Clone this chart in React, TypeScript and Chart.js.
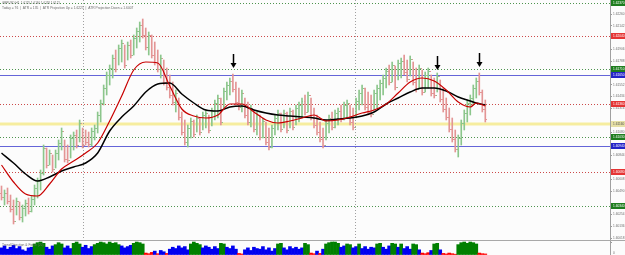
import React, { useEffect, useRef } from 'react';
import { Chart, registerables } from 'chart.js';
Chart.register(...registerables);

const FONT = '"Liberation Sans", "DejaVu Sans", sans-serif';
const BG = '#fcfcfc';
const SLOTS = 203;

const titleLine1 = 'GBPUSD,H1  1.6125 1.6140 1.6118 1.6121';
const titleLine2 = 'Today = 76  |  ATR = 135  |  ATR Projection Up = 1.6221  |  ATR Projection Down = 1.6007';
const subTitle = 'Trend Direction & Force (20)';

const highs = [
  1.6054, 1.6050, 1.6052, 1.6045, 1.6040, 1.6042, 1.6038, 1.6035, 1.6040, 1.6042,
  1.6044, 1.6055, 1.6062, 1.6070, 1.6095, 1.6092, 1.6090, 1.6085, 1.6090, 1.6100,
  1.6112, 1.6100, 1.6095, 1.6105, 1.6108, 1.6110, 1.6120, 1.6112, 1.6110, 1.6108,
  1.6112, 1.6115, 1.6128, 1.6140, 1.6155, 1.6168, 1.6175, 1.6185, 1.6190, 1.6195,
  1.6200, 1.6195, 1.6198, 1.6200, 1.6205, 1.6212, 1.6218, 1.6221, 1.6212, 1.6208,
  1.6205, 1.6198, 1.6190, 1.6185, 1.6180, 1.6172, 1.6165, 1.6158, 1.6150, 1.6142,
  1.6128, 1.6120, 1.6115, 1.6122, 1.6120, 1.6125, 1.6122, 1.6128, 1.6130, 1.6125,
  1.6132, 1.6140, 1.6145, 1.6142, 1.6152, 1.6158, 1.6162, 1.6166, 1.6158, 1.6152,
  1.6150, 1.6142, 1.6138, 1.6135, 1.6130, 1.6128, 1.6125, 1.6122, 1.6118, 1.6112,
  1.6115, 1.6125, 1.6130, 1.6127, 1.6130, 1.6128, 1.6132, 1.6130, 1.6135, 1.6138,
  1.6142, 1.6145, 1.6148, 1.6142, 1.6132, 1.6125, 1.6118, 1.6112, 1.6120, 1.6125,
  1.6128, 1.6130, 1.6132, 1.6135, 1.6138, 1.6140, 1.6135, 1.6132, 1.6142, 1.6150,
  1.6155, 1.6152, 1.6148, 1.6145, 1.6150, 1.6155, 1.6160, 1.6165, 1.6172, 1.6175,
  1.6178, 1.6174, 1.6180, 1.6182, 1.6185, 1.6180, 1.6184, 1.6178, 1.6172, 1.6175,
  1.6170, 1.6168, 1.6172, 1.6165, 1.6162, 1.6167, 1.6160, 1.6152, 1.6142, 1.6132,
  1.6122, 1.6110, 1.6105, 1.6120, 1.6130, 1.6140, 1.6145, 1.6155, 1.6162, 1.6167,
  1.6150, 1.6140,
];

const lows = [
  1.6040, 1.6035, 1.6036, 1.6028, 1.6016, 1.6025, 1.6020, 1.6018, 1.6024, 1.6026,
  1.6028, 1.6035, 1.6042, 1.6050, 1.6065, 1.6072, 1.6075, 1.6068, 1.6072, 1.6080,
  1.6090, 1.6078, 1.6077, 1.6082, 1.6090, 1.6092, 1.6098, 1.6092, 1.6095, 1.6093,
  1.6094, 1.6100, 1.6107, 1.6118, 1.6135, 1.6145, 1.6155, 1.6162, 1.6168, 1.6175,
  1.6178, 1.6172, 1.6180, 1.6182, 1.6185, 1.6192, 1.6198, 1.6202, 1.6190, 1.6185,
  1.6182, 1.6175, 1.6168, 1.6162, 1.6155, 1.6150, 1.6142, 1.6135, 1.6128, 1.6120,
  1.6105, 1.6095, 1.6093, 1.6102, 1.6103, 1.6108, 1.6105, 1.6110, 1.6112, 1.6107,
  1.6114, 1.6120, 1.6122, 1.6115, 1.6132, 1.6140, 1.6145, 1.6148, 1.6135, 1.6130,
  1.6128, 1.6122, 1.6115, 1.6113, 1.6108, 1.6105, 1.6100, 1.6102, 1.6095, 1.6090,
  1.6092, 1.6105, 1.6110, 1.6108, 1.6112, 1.6107, 1.6112, 1.6110, 1.6115, 1.6118,
  1.6122, 1.6125, 1.6128, 1.6120, 1.6112, 1.6105, 1.6098, 1.6092, 1.6100, 1.6107,
  1.6110, 1.6112, 1.6115, 1.6118, 1.6120, 1.6122, 1.6115, 1.6110, 1.6122, 1.6130,
  1.6135, 1.6130, 1.6125, 1.6123, 1.6130, 1.6132, 1.6140, 1.6145, 1.6152, 1.6155,
  1.6158, 1.6150, 1.6160, 1.6162, 1.6165, 1.6158, 1.6164, 1.6155, 1.6148, 1.6152,
  1.6145, 1.6148, 1.6152, 1.6144, 1.6142, 1.6148, 1.6138, 1.6128, 1.6120, 1.6108,
  1.6098, 1.6088, 1.6083, 1.6095, 1.6110, 1.6118, 1.6125, 1.6135, 1.6142, 1.6145,
  1.6128, 1.6118,
];

const closes = [
  1.6043, 1.6047, 1.6039, 1.6031, 1.6019, 1.6039, 1.6023, 1.6032, 1.6037, 1.6029,
  1.6041, 1.6052, 1.6059, 1.6067, 1.6092, 1.6075, 1.6087, 1.6071, 1.6087, 1.6097,
  1.6109, 1.6081, 1.6080, 1.6102, 1.6105, 1.6095, 1.6117, 1.6095, 1.6098, 1.6096,
  1.6109, 1.6112, 1.6125, 1.6137, 1.6152, 1.6165, 1.6172, 1.6182, 1.6171, 1.6192,
  1.6197, 1.6175, 1.6195, 1.6185, 1.6202, 1.6209, 1.6215, 1.6205, 1.6193, 1.6205,
  1.6185, 1.6178, 1.6171, 1.6182, 1.6158, 1.6153, 1.6145, 1.6138, 1.6147, 1.6123,
  1.6108, 1.6098, 1.6112, 1.6119, 1.6106, 1.6122, 1.6108, 1.6125, 1.6127, 1.6110,
  1.6129, 1.6137, 1.6142, 1.6118, 1.6149, 1.6155, 1.6159, 1.6151, 1.6138, 1.6133,
  1.6147, 1.6125, 1.6118, 1.6132, 1.6111, 1.6125, 1.6103, 1.6119, 1.6098, 1.6093,
  1.6112, 1.6122, 1.6127, 1.6111, 1.6127, 1.6110, 1.6129, 1.6113, 1.6132, 1.6135,
  1.6139, 1.6128, 1.6145, 1.6123, 1.6115, 1.6108, 1.6101, 1.6095, 1.6117, 1.6122,
  1.6113, 1.6127, 1.6129, 1.6121, 1.6135, 1.6137, 1.6118, 1.6113, 1.6139, 1.6147,
  1.6152, 1.6133, 1.6128, 1.6126, 1.6147, 1.6152, 1.6157, 1.6162, 1.6169, 1.6158,
  1.6175, 1.6153, 1.6177, 1.6179, 1.6168, 1.6161, 1.6181, 1.6158, 1.6151, 1.6172,
  1.6148, 1.6165, 1.6169, 1.6147, 1.6145, 1.6164, 1.6141, 1.6131, 1.6123, 1.6111,
  1.6101, 1.6091, 1.6102, 1.6117, 1.6127, 1.6137, 1.6142, 1.6152, 1.6159, 1.6148,
  1.6131, 1.6121,
];

const maIdx = [
  0, 4, 8, 12, 16, 20, 24, 28, 32, 36, 40, 44, 48, 52, 56, 60, 64, 68, 72, 76,
  80, 84, 88, 92, 96, 100, 104, 108, 112, 116, 120, 124, 128, 132, 136, 140, 144, 148, 152, 156,
  158, 161,
];
const redMA = [
  1.6075, 1.6058, 1.6046, 1.6044, 1.6056, 1.6071, 1.6079, 1.6087, 1.6097, 1.6119,
  1.6144, 1.6170, 1.6178, 1.6177, 1.6154, 1.6131, 1.6124, 1.6122, 1.6125, 1.6136,
  1.6136, 1.6128, 1.6120, 1.6117, 1.6119, 1.6122, 1.6125, 1.6119, 1.6120, 1.6123,
  1.6127, 1.6130, 1.6136, 1.6147, 1.6158, 1.6162, 1.6159, 1.6150, 1.6138, 1.6133,
  1.6137, 1.6134,
];
const blackMA = [
  1.6087, 1.6077, 1.6066, 1.6059, 1.6063, 1.6069, 1.6073, 1.6077, 1.6087, 1.6109,
  1.6123, 1.6134, 1.6148, 1.6156, 1.6157, 1.6146, 1.6137, 1.6130, 1.6129, 1.6133,
  1.6134, 1.6130, 1.6127, 1.6125, 1.6124, 1.6123, 1.6122, 1.6120, 1.6121, 1.6122,
  1.6124, 1.6128, 1.6136, 1.6142, 1.6148, 1.6152, 1.6152, 1.6149, 1.6143, 1.6139,
  1.6137, 1.6135,
];

const trendVals = [
  55, 70, 45, 60, 75, 50, 65, 40, 30, 55, 60,
  85, 95, 100, 90,
  60, 45, 70,
  80, 95, 85,
  55, 70, 50,
  90, 100, 85,
  60, 75, 50, 65,
  80, 90, 100, 95, 85, 100, 90, 95, 80,
  70, 55, 65, 75,
  90, 100, 95, 85,
  15, 10, 20, 30, 10, 35, 25, 12,
  45, 60, 50, 70, 55, 65, 40,
  85, 100, 90, 80,
  55, 70, 60, 45, 65, 50,
  90, 85,
  60, 50, 70, 45,
  12, 8,
  40, 55, 35, 60, 50, 45, 65, 40, 55, 30, 50,
  85, 90,
  55, 40, 65, 50, 60, 45, 55,
  90, 80,
  15, 10, 30, 12,
  45,
  85, 95, 100, 100, 90,
  60, 70,
  85, 80,
  55, 65,
  85,
  50, 65, 45, 60, 55,
  85, 90,
  60, 45, 70,
  90, 85,
  60,
  85,
  50, 65, 45,
  85, 80,
  40,
  15, 10, 18,
  35,
  85, 90,
  40,
  12, 8, 15, 10, 6,
  80, 95, 100, 90, 100, 95, 85,
  15, 10, 8,
];
const trendCols =
  'bbbbbbbbbbb' + 'gggg' + 'bbb' + 'ggg' + 'bbb' + 'ggg' + 'bbbb' + 'ggggggggg' + 'bbbb' + 'gggg' +
  'rrrbrbbr' + 'bbbbbbb' + 'gggg' + 'bbbbbb' + 'gg' + 'bbbb' + 'rr' + 'bbbbbbbbbbb' + 'gg' + 'bbbbbbb' +
  'gg' + 'rrbr' + 'b' + 'ggggg' + 'bb' + 'gg' + 'bb' + 'g' + 'bbbbb' + 'gg' + 'bbb' + 'gg' + 'b' + 'g' +
  'bbb' + 'gg' + 'b' + 'rrr' + 'b' + 'gg' + 'b' + 'rrrrr' + 'ggggggg' + 'rrr';

const levelPrices = [1.6237, 1.6204, 1.6171, 1.6165, 1.6136, 1.6116, 1.6103, 1.6094, 1.6068, 1.6034];
const levelKinds = ['g', 'r', 'g', 'b', 'r', 'y', 'g', 'b', 'r', 'g'];

const priceTicks = [
  1.6226, 1.62142, 1.61906, 1.61788, 1.61552, 1.61434, 1.61316,
  1.6108, 1.60844, 1.60608, 1.6049, 1.60254, 1.60136, 1.60018,
];
const subTicks = [100, 0];

const arrowIdx = [77, 145, 159];
const arrowTips = [1.6172, 1.617, 1.6173];
const separators = [27, 117.5];

const COL = { b: '#0000f0', g: '#008000', r: '#ff0000' } as Record<string, string>;
const UP = '#8cc68c';
const DOWN = '#e39595';
const LABEL_STYLE: Record<string, { bg: string; fg: string }> = {
  g: { bg: '#1e7d1e', fg: '#ffffff' },
  r: { bg: '#e53535', fg: '#ffffff' },
  b: { bg: '#2424c8', fg: '#ffffff' },
  y: { bg: '#e6e0a6', fg: '#555555' },
};

const slots = Array.from({ length: SLOTS }, (_, i) => i);

function rightAxis(min: number, max: number, ticks: number[], fmt: (v: number) => string, labelOffset = 0) {
  return {
    position: 'right' as const,
    min,
    max,
    afterBuildTicks: (s: any) => {
      s.ticks = ticks.map((v) => ({ value: v }));
    },
    afterFit: (s: any) => {
      s.width = 15;
      s.paddingTop = 0;
      s.paddingBottom = 0;
    },
    grid: { drawOnChartArea: false, drawTicks: true, tickLength: 2, color: '#9a9a9a' },
    border: { display: true, color: '#a0a0a0' },
    ticks: {
      autoSkip: false,
      padding: 1,
      labelOffset,
      color: '#6e6e6e',
      font: { size: 3.2, family: FONT },
      callback: (v: any) => fmt(Number(v)),
    },
  };
}

const isUp = (i: number) => closes[i] >= (highs[i] + lows[i]) / 2;

const mainPlugin = {
  id: 'mt4main',
  beforeDraw(chart: any) {
    const { ctx, width, height } = chart;
    ctx.save();
    ctx.fillStyle = BG;
    ctx.fillRect(0, 0, width, height);
    ctx.restore();
  },
  beforeDatasetsDraw(chart: any) {
    const { ctx, chartArea: a, scales } = chart;
    const x = scales.x;
    const y = scales.y;
    ctx.save();
    levelPrices.forEach((p, k) => {
      if (levelKinds[k] !== 'y') return;
      const py = y.getPixelForValue(p);
      ctx.strokeStyle = '#f6ed9f';
      ctx.lineWidth = 3;
      ctx.setLineDash([]);
      ctx.beginPath();
      ctx.moveTo(a.left, py);
      ctx.lineTo(a.right, py);
      ctx.stroke();
    });
    ctx.strokeStyle = '#a0a0a0';
    ctx.lineWidth = 1;
    ctx.setLineDash([1, 2]);
    separators.forEach((s) => {
      const px = Math.round(x.getPixelForValue(s)) + 0.5;
      ctx.beginPath();
      ctx.moveTo(px, a.top);
      ctx.lineTo(px, a.bottom);
      ctx.stroke();
    });
    levelPrices.forEach((p, k) => {
      const kind = levelKinds[k];
      if (kind === 'y') return;
      const py = Math.round(y.getPixelForValue(p)) + 0.5;
      if (kind === 'b') {
        ctx.strokeStyle = '#6464d8';
        ctx.setLineDash([]);
      } else if (kind === 'r') {
        ctx.strokeStyle = '#cc4a4a';
        ctx.setLineDash([1, 2]);
      } else {
        ctx.strokeStyle = '#4e944e';
        ctx.setLineDash([1, 2]);
      }
      ctx.lineWidth = 1;
      ctx.beginPath();
      ctx.moveTo(a.left, py);
      ctx.lineTo(a.right, py);
      ctx.stroke();
    });
    ctx.restore();
  },
  afterDatasetDraw(chart: any, args: any) {
    // open / close ticks of the OHLC bars
    if (args.index !== 2) return;
    const { ctx, scales } = chart;
    const x = scales.x;
    const y = scales.y;
    ctx.save();
    highs.forEach((h, i) => {
      const col = Math.floor(x.getPixelForValue(i));
      const open = i > 0 ? closes[i - 1] : (h + lows[i]) / 2;
      ctx.fillStyle = isUp(i) ? UP : DOWN;
      ctx.fillRect(col - 1, Math.round(y.getPixelForValue(open)), 1, 1);
      ctx.fillRect(col + 1, Math.round(y.getPixelForValue(closes[i])), 1, 1);
    });
    ctx.restore();
  },
  afterDatasetsDraw(chart: any) {
    const { ctx, scales } = chart;
    const x = scales.x;
    const y = scales.y;
    ctx.save();
    ctx.strokeStyle = '#000';
    ctx.fillStyle = '#000';
    ctx.lineWidth = 1.5;
    arrowIdx.forEach((ix, k) => {
      const px = Math.round(x.getPixelForValue(ix)) + 0.5;
      const py = y.getPixelForValue(arrowTips[k]);
      ctx.beginPath();
      ctx.moveTo(px, py - 14);
      ctx.lineTo(px, py - 4);
      ctx.stroke();
      ctx.beginPath();
      ctx.moveTo(px - 3, py - 5);
      ctx.lineTo(px + 3, py - 5);
      ctx.lineTo(px, py);
      ctx.closePath();
      ctx.fill();
    });
    ctx.restore();
  },
  afterDraw(chart: any) {
    const { ctx, chartArea: a, scales, width } = chart;
    const y = scales.y;
    ctx.save();
    ctx.textBaseline = 'middle';
    ctx.font = `3.2px ${FONT}`;
    levelPrices.forEach((p, k) => {
      const st = LABEL_STYLE[levelKinds[k]];
      const py = y.getPixelForValue(p);
      ctx.fillStyle = st.bg;
      ctx.fillRect(a.right + 1, py - 3, width - a.right - 1, 6);
      ctx.fillStyle = st.fg;
      ctx.fillText(p.toFixed(5), a.right + 3, py);
    });
    ctx.fillStyle = '#6a6a6a';
    ctx.font = `3px ${FONT}`;
    ctx.fillText(titleLine1, 2, 3);
    ctx.font = `3.3px ${FONT}`;
    ctx.fillText(titleLine2, 2, 8);
    ctx.restore();
  },
};

const subPlugin = {
  id: 'mt4sub',
  beforeDraw(chart: any) {
    const { ctx, width, height } = chart;
    ctx.save();
    ctx.fillStyle = BG;
    ctx.fillRect(0, 0, width, height);
    ctx.restore();
  },
  afterDraw(chart: any) {
    const { ctx } = chart;
    ctx.save();
    ctx.fillStyle = '#6a6a6a';
    ctx.font = `3.3px ${FONT}`;
    ctx.textBaseline = 'middle';
    ctx.fillText(subTitle, 2, 4);
    ctx.restore();
  },
};

export default function App() {
  const mainRef = useRef<HTMLCanvasElement>(null);
  const subRef = useRef<HTMLCanvasElement>(null);

  useEffect(() => {
    document.body.style.margin = '0';
    const barColors = highs.map((_, i) => (isUp(i) ? UP : DOWN));
    const main = new Chart(mainRef.current as HTMLCanvasElement, {
      type: 'bar',
      data: {
        labels: slots,
        datasets: [
          {
            type: 'line',
            data: maIdx.map((ix, k) => ({ x: ix, y: blackMA[k] })),
            borderColor: '#000000',
            borderWidth: 1.5,
            pointRadius: 0,
            cubicInterpolationMode: 'monotone',
            order: 1,
          } as any,
          {
            type: 'line',
            data: maIdx.map((ix, k) => ({ x: ix, y: redMA[k] })),
            borderColor: '#c80000',
            borderWidth: 1.2,
            pointRadius: 0,
            cubicInterpolationMode: 'monotone',
            order: 0,
          } as any,
          {
            type: 'bar',
            data: highs.map((h, i) => [lows[i], h]),
            backgroundColor: barColors,
            borderWidth: 0,
            barThickness: 1,
            grouped: false,
            order: 3,
          } as any,
        ],
      },
      options: {
        responsive: false,
        maintainAspectRatio: false,
        animation: false,
        events: [],
        layout: { padding: 0 },
        plugins: { legend: { display: false }, tooltip: { enabled: false } },
        scales: {
          x: { display: false, offset: true },
          y: rightAxis(1.6, 1.624, priceTicks, (v) => v.toFixed(5)) as any,
        },
      },
      plugins: [mainPlugin],
    });

    const sub = new Chart(subRef.current as HTMLCanvasElement, {
      type: 'bar',
      data: {
        labels: slots,
        datasets: [
          {
            data: trendVals,
            backgroundColor: trendVals.map((_, i) => COL[trendCols[i]]),
            borderWidth: 0,
            barPercentage: 1,
            categoryPercentage: 1,
          },
        ],
      },
      options: {
        responsive: false,
        maintainAspectRatio: false,
        animation: false,
        events: [],
        layout: { padding: 0 },
        plugins: { legend: { display: false }, tooltip: { enabled: false } },
        scales: {
          x: { display: false, offset: true },
          y: rightAxis(0, 108, subTicks, (v) => String(v), -1.5) as any,
        },
      },
      plugins: [subPlugin],
    });

    return () => {
      main.destroy();
      sub.destroy();
    };
  }, []);

  return (
    <div style={{ width: 625, height: 255, background: BG, overflow: 'hidden' }}>
      <canvas ref={mainRef} width={625} height={240} style={{ display: 'block' }} />
      <div style={{ width: 625, height: 1, background: '#a8a8a8' }} />
      <canvas ref={subRef} width={625} height={14} style={{ display: 'block' }} />
    </div>
  );
}
